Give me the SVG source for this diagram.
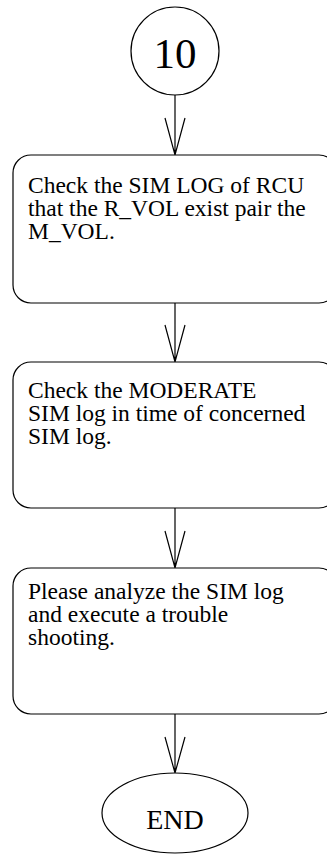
<svg xmlns="http://www.w3.org/2000/svg" width="327" height="856" viewBox="0 0 327 856">
<style>
.s{fill:#fff;stroke:#000;stroke-width:1.2}
.t{font-family:"Liberation Serif","Times New Roman",serif;font-size:23.5px;fill:#000}
.c{stroke:#000;stroke-width:1.2;fill:none}
</style>
<rect width="327" height="856" fill="#fff"/>
<g id="connectors">
<path class="c" d="M175,95 V155 M165,118 L175,155 L185,118"/>
<path class="c" d="M175,303 V362 M165,325 L175,362 L185,325"/>
<path class="c" d="M175,508 V568 M165,531 L175,568 L185,531"/>
<path class="c" d="M175,714 V773 M165,737 L175,773 L185,737"/>
</g>
<g id="n10">
<ellipse class="s" cx="175" cy="51" rx="44" ry="44"/>
<text x="175" y="68" text-anchor="middle" style="font-family:'Liberation Serif',serif;font-size:43px">10</text>
</g>
<g id="step1">
<rect class="s" x="13" y="155" width="324" height="148" rx="18"/>
<text class="t"><tspan x="28" y="193">Check the SIM LOG of RCU</tspan><tspan x="28" y="216">that the R_VOL exist pair the</tspan><tspan x="28" y="239">M_VOL.</tspan></text>
</g>
<g id="step2">
<rect class="s" x="13" y="362" width="324" height="146" rx="18"/>
<text class="t"><tspan x="28" y="398">Check the MODERATE</tspan><tspan x="28" y="421">SIM log in time of concerned</tspan><tspan x="28" y="444">SIM log.</tspan></text>
</g>
<g id="step3">
<rect class="s" x="13" y="568" width="324" height="146" rx="18"/>
<text class="t"><tspan x="28" y="599">Please analyze the SIM log</tspan><tspan x="28" y="622">and execute a trouble</tspan><tspan x="28" y="645">shooting.</tspan></text>
</g>
<g id="end">
<ellipse class="s" cx="175" cy="813" rx="73" ry="40"/>
<text x="175" y="829" text-anchor="middle" style="font-family:'Liberation Serif',serif;font-size:28px">END</text>
</g>
</svg>
